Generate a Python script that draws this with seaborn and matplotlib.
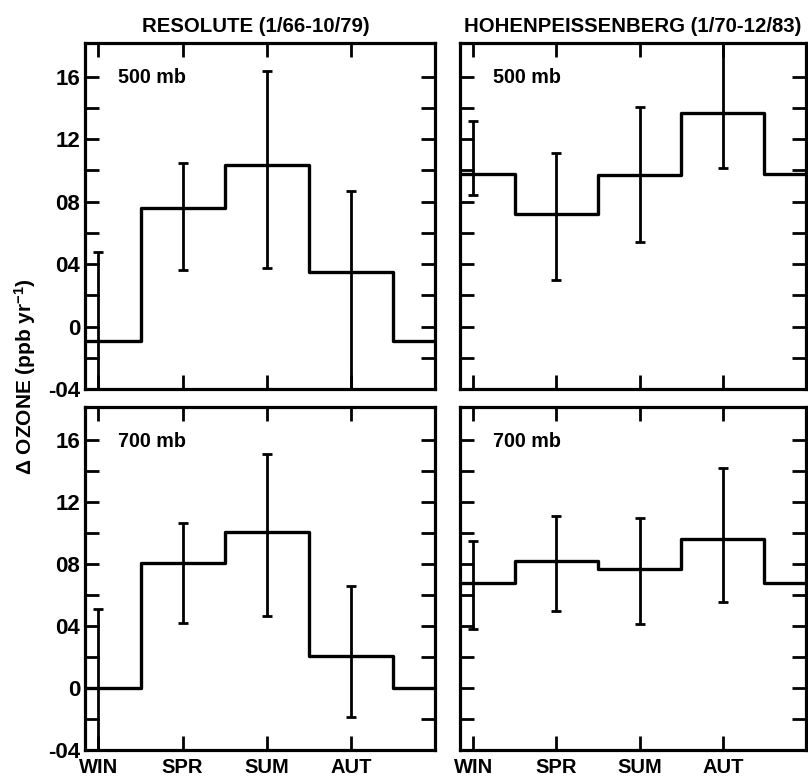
import numpy as np
import pandas as pd
import matplotlib
matplotlib.use("Agg")
import matplotlib.pyplot as plt
import seaborn as sns

# ---- data ----
seasons = ["WIN", "SPR", "SUM", "AUT"]

res500_mean = [-0.9, 7.58, 10.35, 3.50]
res500_lo = [-6.5, 3.63, 3.72, -4.5]
res500_hi = [4.77, 10.46, 16.34, 8.66]

hoh500_mean = [9.75, 7.19, 9.73, 13.64]
hoh500_lo = [8.42, 2.99, 5.43, 10.14]
hoh500_hi = [13.17, 11.13, 14.07, 18.8]

res700_mean = [0.0, 8.07, 10.05, 2.05]
res700_lo = [-5.1, 4.22, 4.65, -1.84]
res700_hi = [5.08, 10.66, 15.11, 6.59]

hoh700_mean = [6.8, 8.21, 7.66, 9.6]
hoh700_lo = [3.81, 4.96, 4.14, 5.55]
hoh700_hi = [9.47, 11.08, 10.99, 14.22]

ytick_vals = [-4, 0, 4, 8, 12, 16]
ytick_labels = ["-04", "0", "04", "08", "12", "16"]
yminor_vals = [-2, 2, 6, 10, 14]

titles = ["RESOLUTE (1/66-10/79)", "HOHENPEISSENBERG (1/70-12/83)"]
levels = ["500 mb", "700 mb"]
ylabel = r"$\Delta$ OZONE (ppb yr$^{-1}$)"

# ---- style ----
sns.set_theme(style="ticks")
plt.rcParams["font.family"] = ["Liberation Sans", "DejaVu Sans"]
plt.rcParams["font.weight"] = "bold"
plt.rcParams["text.color"] = "black"
plt.rcParams["axes.labelcolor"] = "black"
plt.rcParams["xtick.color"] = "black"
plt.rcParams["ytick.color"] = "black"
plt.rcParams["axes.edgecolor"] = "black"
plt.rcParams["mathtext.fontset"] = "custom"
plt.rcParams["mathtext.rm"] = "Liberation Sans:bold"
plt.rcParams["mathtext.it"] = "Liberation Sans:bold"
plt.rcParams["mathtext.bf"] = "Liberation Sans:bold"
plt.rcParams["mathtext.sf"] = "Liberation Sans:bold"

fig = plt.figure(figsize=(8.08, 7.79), dpi=100)

left_x = (85 / 808, 435 / 808)
right_x = (460 / 808, 806 / 808)
top_y = (1 - 389 / 779, 1 - 43 / 779)
bot_y = (1 - 750 / 779, 1 - 407 / 779)

panels = [
    (left_x, top_y, res500_mean, res500_lo, res500_hi, levels[0], True, False),
    (right_x, top_y, hoh500_mean, hoh500_lo, hoh500_hi, levels[0], False, False),
    (left_x, bot_y, res700_mean, res700_lo, res700_hi, levels[1], True, True),
    (right_x, bot_y, hoh700_mean, hoh700_lo, hoh700_hi, levels[1], False, True),
]

pos = np.arange(len(seasons))

for (xr, yr, mean, lo, hi, lev, ylab, xlab) in panels:
    ax = fig.add_axes([xr[0], yr[0], xr[1] - xr[0], yr[1] - yr[0]])
    mean = list(mean)
    x_ext = np.arange(-1, len(seasons) + 2)
    y_ext = [mean[0]] + mean + [mean[0], mean[0]]
    df = pd.DataFrame({"x": x_ext, "y": y_ext})
    sns.lineplot(data=df, x="x", y="y", ax=ax, color="black", linewidth=2.4,
                 drawstyle="steps-mid", estimator=None)
    m = np.array(mean)
    yerr = [m - np.array(lo), np.array(hi) - m]
    ax.errorbar(pos, m, yerr=yerr, fmt="none", ecolor="black",
                elinewidth=2.0, capsize=3.5, capthick=2.0)
    ax.set_xlim(-0.16, 4.0)
    ax.set_ylim(-4, 18.15)
    ax.set_xticks(pos)
    ax.set_yticks(ytick_vals)
    ax.set_yticks(yminor_vals, minor=True)
    ax.tick_params(which="both", direction="in", top=True, right=True,
                   left=True, bottom=True, length=10, width=2.0, color="black",
                   labelcolor="black")
    ax.tick_params(axis="y", pad=3.5, labelsize=16)
    ax.tick_params(axis="x", pad=6, labelsize=14.5)
    if ylab:
        ax.set_yticklabels(ytick_labels)
    else:
        ax.set_yticklabels([])
    if xlab:
        ax.set_xticklabels(seasons)
    else:
        ax.set_xticklabels([])
    for lbl in ax.get_xticklabels() + ax.get_yticklabels():
        lbl.set_fontweight("bold")
    ax.set_xlabel("")
    ax.set_ylabel("")
    for s in ax.spines.values():
        s.set_linewidth(2.3)
        s.set_color("black")
        s.set_visible(True)
    ax.text(0.094, 0.9, lev, transform=ax.transAxes, fontsize=14.2,
            fontweight="bold", ha="left", va="center", color="black")

fig.text(256 / 808, 1 - 32.3 / 779, titles[0], ha="center", va="baseline",
         fontsize=14.7, fontweight="bold", color="black")
fig.text(633 / 808, 1 - 32.3 / 779, titles[1], ha="center", va="baseline",
         fontsize=14.7, fontweight="bold", color="black")
fig.text(25 / 808, 1 - 377 / 779, ylabel, rotation=90, ha="center",
         va="center", fontsize=15, fontweight="bold", color="black")

fig.savefig("out.png", dpi=100)
